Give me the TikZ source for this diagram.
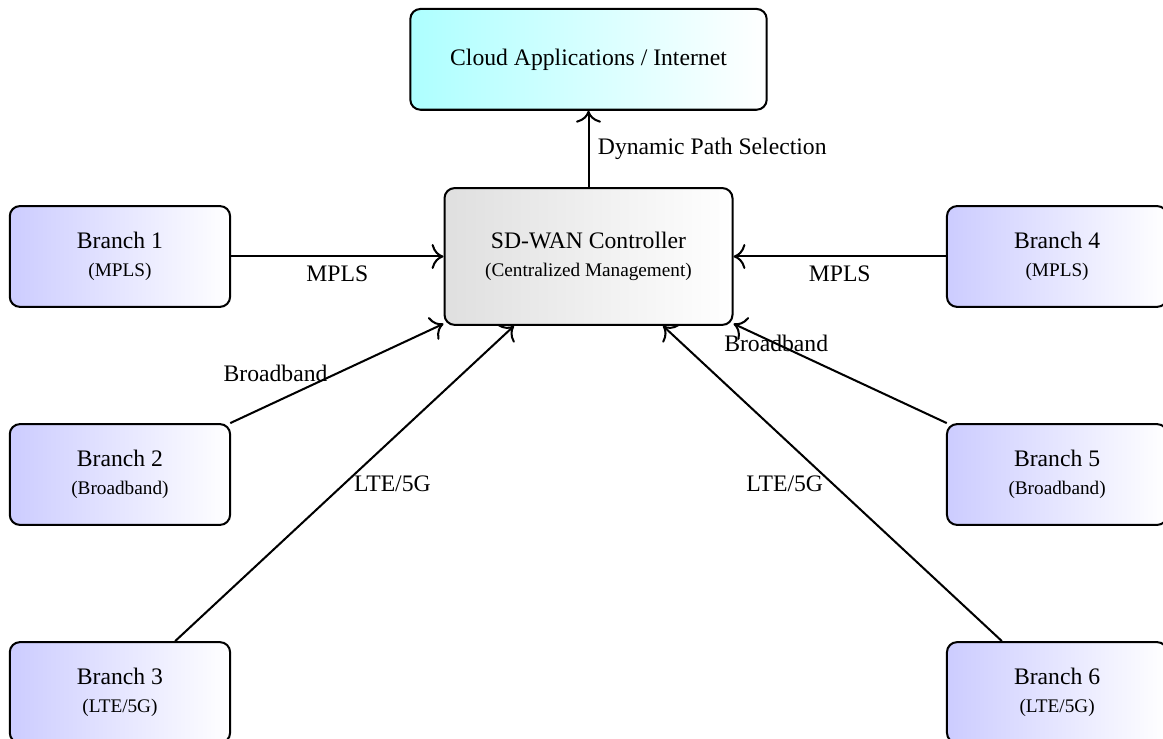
\documentclass[tikz,border=0pt]{standalone}
\usepackage{fontspec}
\setmainfont{Liberation Serif}
\usetikzlibrary{positioning,arrows.meta}
\newcommand{\nodenote}[1]{{\fontsize{7.6}{9}\selectfont #1}}

\begin{document}
\begin{tikzpicture}[node distance=2.95cm, every node/.style={font=\fontsize{9.35}{11}\selectfont, align=center},
  branch/.style={draw, thick, rounded corners, left color=blue!20, right color=white, minimum width=3.06cm, minimum height=1.4cm},
  link/.style={-{To[scale=1.4]}, thick}]
  \useasboundingbox (-8.174,3.5625) rectangle (7.979,-6.701);
  \node[draw, thick, rounded corners, left color=gray!25, right color=white, minimum width=4cm, minimum height=1.9cm] (ctrl) at (0,0) {SD-WAN Controller\\\nodenote{(Centralized Management)}};
  \node[draw, thick, rounded corners, left color=cyan!32, right color=white, minimum width=4.95cm, minimum height=1.4cm, above=1.06cm of ctrl] (cloud) {Cloud Applications / Internet};
  \node[branch, left=of ctrl] (b1) {Branch 1\\\nodenote{(MPLS)}};
  \node[branch, below=1.6cm of b1] (b2) {Branch 2\\\nodenote{(Broadband)}};
  \node[branch, below=1.6cm of b2] (b3) {Branch 3\\\nodenote{(LTE/5G)}};
  \node[branch, right=of ctrl] (b4) {Branch 4\\\nodenote{(MPLS)}};
  \node[branch, below=1.6cm of b4] (b5) {Branch 5\\\nodenote{(Broadband)}};
  \node[branch, below=1.6cm of b5] (b6) {Branch 6\\\nodenote{(LTE/5G)}};
  \draw[link] (ctrl) -- node[right] {Dynamic Path Selection} (cloud);
  \draw[link] (b1) -- node[below] {MPLS} (ctrl);
  \draw[link] (b2) -- node[left] {Broadband} (ctrl);
  \draw[link] (b3) -- node[right] {LTE/5G} (ctrl);
  \draw[link] (b4) -- node[below] {MPLS} (ctrl);
  \draw[link] (b5) -- node[pos=0.8] {Broadband} (ctrl);
  \draw[link] (b6) -- node[left] {LTE/5G} (ctrl);
\end{tikzpicture}
\end{document}
